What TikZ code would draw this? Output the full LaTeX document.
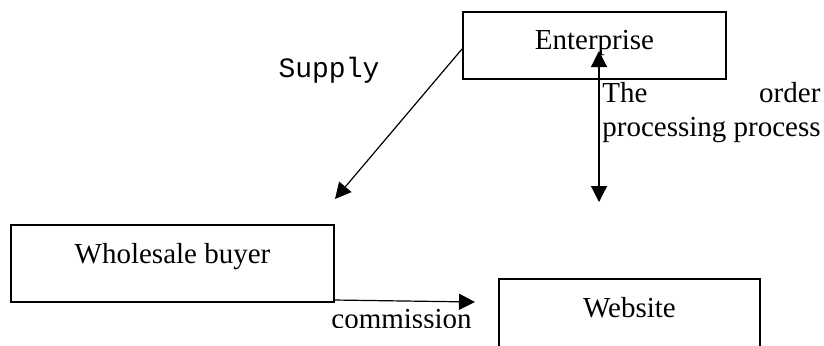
\documentclass[tikz,border=0pt]{standalone}
\usepackage{fontspec}
\setmainfont{Liberation Serif}
\setmonofont{Liberation Mono}
\usetikzlibrary{arrows.meta}
\begin{document}
\begin{tikzpicture}[x=0.5pt,y=-0.5pt,
  every node/.style={font=\fontsize{14.5}{17}\selectfont},
  box/.style={draw,line width=1pt,inner xsep=0pt,inner ysep=0pt,align=center},
  conn/.style={line width=0.6pt,-{Triangle[length=8pt,width=8pt]}},
  lbl/.style={inner sep=0pt}]
\clip (0,0) rectangle (824,345);
\fill[white] (0,0) rectangle (824,345);
% boxes
\node[box,anchor=base,minimum width=131.5pt,text height=18.5pt,text depth=15pt] (ent) at (594.5,49) {Enterprise};
\node[box,anchor=base,minimum width=161.5pt,text height=19pt,text depth=19.5pt] (whb) at (172.5,263) {Wholesale buyer};
\node[box,anchor=base,minimum width=130.5pt,text height=19pt,text depth=26.5pt] (web) at (629.5,317) {Website};
% labels
\node[lbl,anchor=base,font=\ttfamily\fontsize{14}{17}\selectfont] (sup) at (329,77) {Supply};
\node[lbl,anchor=base west,text width=109pt,align=left] (ordA) at (602,102) {The\hfill order};
\node[lbl,anchor=base west] (ordB) at (602,136) {processing process};
\begin{scope}
\clip (300,300) rectangle (490,327);
\node[lbl,anchor=base] (com) at (401.5,328) {commission};
\end{scope}
% connector end points
\coordinate (supS) at (462,49);
\coordinate (supE) at (335,199);
\coordinate (ordT) at (599,51);
\coordinate (ordD) at (599,202);
\coordinate (comS) at (334,300);
\coordinate (comE) at (475,302);
% connectors
\draw[conn] (supS) -- (supE);
\draw[conn,{Triangle[length=8pt,width=8pt]}-{Triangle[length=8pt,width=8pt]}] (ordD) -- (ordT);
\draw[conn] (comS) -- (comE);
\end{tikzpicture}
\end{document}
